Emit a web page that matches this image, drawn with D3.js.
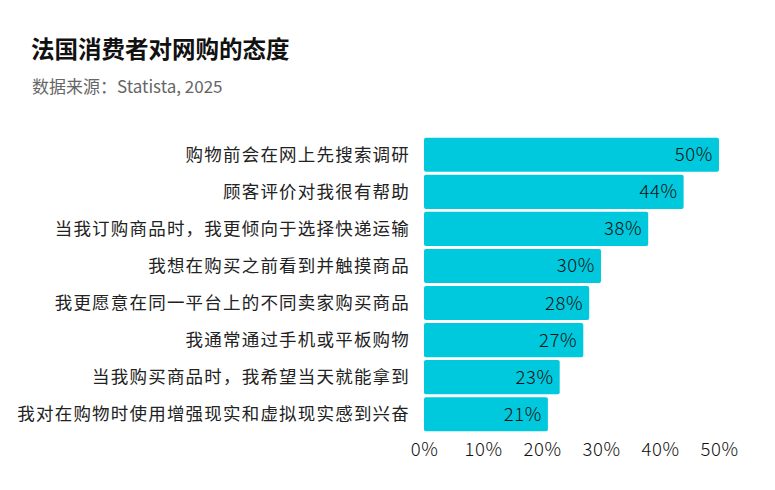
<!DOCTYPE html>
<html>
<head>
<meta charset="utf-8">
<script src="https://cdn.jsdelivr.net/npm/d3@7"></script>
<style>
  body { margin: 0; background: #fff; }
  text { font-family: "Noto Sans CJK SC", "Noto Sans", sans-serif; }
</style>
</head>
<body>
<div id="chart"></div>
<script>
// data
const categories = [
  "购物前会在网上先搜索调研",
  "顾客评价对我很有帮助",
  "当我订购商品时，我更倾向于选择快递运输",
  "我想在购买之前看到并触摸商品",
  "我更愿意在同一平台上的不同卖家购买商品",
  "我通常通过手机或平板购物",
  "当我购买商品时，我希望当天就能拿到",
  "我对在购物时使用增强现实和虚拟现实感到兴奋"
];
const values = [50, 44, 38, 30, 28, 27, 23, 21];
const tickValues = [0, 10, 20, 30, 40, 50];

/** CONSTANTS */
let width = 775,
  height = 490,
  margin = { top: 137, bottom: 58, left: 424, right: 56 };

let data = categories.map((c, i) => ({ cat: c, value: values[i] }));

/** SCALES */
let xScale = d3.scaleLinear()
  .domain([0, 50])
  .range([margin.left, width - margin.right]);

let yScale = d3.scaleBand()
  .domain(categories)
  .range([margin.top, height - margin.bottom])
  .paddingInner(0.08)
  .paddingOuter(0.02);

/** MAIN CODE */
let svg = d3.select("#chart")
  .append("svg")
  .attr("width", width)
  .attr("height", height);

svg.append("text")
  .attr("x", 31).attr("y", 58)
  .attr("font-size", 23.5).attr("font-weight", "bold").attr("fill", "#111")
  .text("法国消费者对网购的态度");

svg.append("text")
  .attr("x", 32).attr("y", 93)
  .attr("font-size", 17).attr("fill", "#666")
  .text("数据来源：Statista, 2025");

// bars
svg.selectAll("rect.bar")
  .data(data)
  .join("rect")
  .attr("class", "bar")
  .attr("x", xScale(0))
  .attr("y", d => yScale(d.cat))
  .attr("width", d => xScale(d.value) - xScale(0))
  .attr("height", yScale.bandwidth())
  .attr("rx", 2)
  .attr("fill", "#00C9DD");

// value labels
svg.selectAll("text.val")
  .data(data)
  .join("text")
  .attr("class", "val")
  .attr("x", d => xScale(d.value) - 6)
  .attr("y", d => yScale(d.cat) + yScale.bandwidth() / 2)
  .attr("dy", "0.35em")
  .attr("text-anchor", "end")
  .attr("font-size", 18.5)
  .attr("font-weight", 300)
  .attr("letter-spacing", 0.6)
  .attr("fill", "#111")
  .text(d => d.value + "%");

// category labels
svg.selectAll("text.cat")
  .data(data)
  .join("text")
  .attr("class", "cat")
  .attr("x", margin.left - 14)
  .attr("y", d => yScale(d.cat) + yScale.bandwidth() / 2)
  .attr("dy", "0.35em")
  .attr("text-anchor", "end")
  .attr("font-size", 17.5)
  .attr("letter-spacing", 1.2)
  .attr("fill", "#222")
  .text(d => d.cat);

// x axis
let xAxis = d3.axisBottom(xScale)
  .tickValues(tickValues)
  .tickFormat(d => d + "%")
  .tickSize(0)
  .tickPadding(11);

let gx = svg.append("g")
  .attr("transform", `translate(0, ${height - margin.bottom})`)
  .call(xAxis);
gx.select(".domain").remove();
gx.selectAll("text")
  .attr("font-size", 18.5)
  .attr("font-weight", 300)
  .attr("letter-spacing", 0.6)
  .attr("fill", "#111")
  .style("font-family", "'Noto Sans CJK SC', 'Noto Sans', sans-serif");
</script>
</body>
</html>
